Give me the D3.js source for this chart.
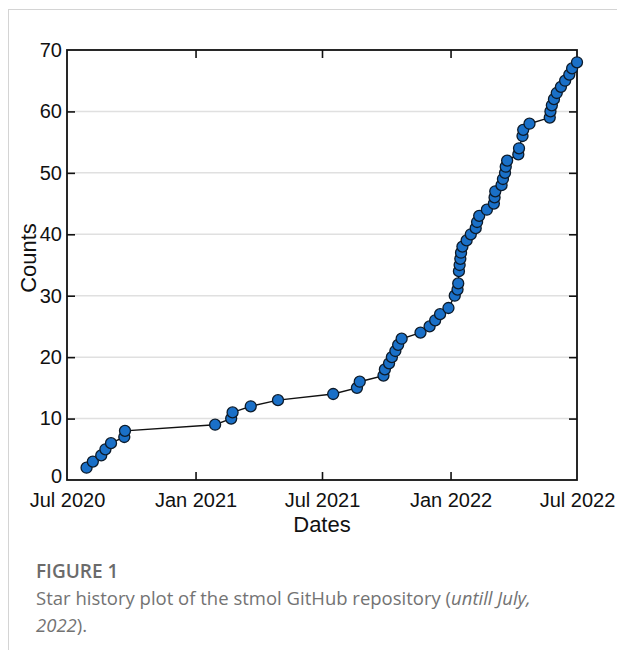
<!DOCTYPE html>
<html>
<head>
<meta charset="utf-8">
<script src="https://cdn.jsdelivr.net/npm/d3@7"></script>
<style>
  html, body { margin: 0; padding: 0; background: #fff; }
  svg { display: block; }
</style>
</head>
<body>
<svg id="chart" width="617" height="650"></svg>
<script>
// Star history of the stmol repository: date of each recorded star and cumulative count
const starDates = [
  "2020-07-29", "2020-08-07", "2020-08-19", "2020-08-25", "2020-09-02", "2020-09-21", "2020-09-22",
  "2021-01-29", "2021-02-21", "2021-02-23", "2021-03-21", "2021-04-29",
  "2021-07-17", "2021-08-20", "2021-08-24",
  "2021-09-27", "2021-09-29", "2021-10-05", "2021-10-09", "2021-10-14", "2021-10-18", "2021-10-23",
  "2021-11-19", "2021-12-02", "2021-12-10", "2021-12-17", "2021-12-29",
  "2022-01-07", "2022-01-11", "2022-01-12", "2022-01-13", "2022-01-14", "2022-01-15", "2022-01-16",
  "2022-01-18", "2022-01-24", "2022-01-30", "2022-02-06", "2022-02-08", "2022-02-11", "2022-02-22",
  "2022-03-04", "2022-03-05", "2022-03-06", "2022-03-15", "2022-03-17", "2022-03-20", "2022-03-21",
  "2022-03-23", "2022-04-08", "2022-04-09", "2022-04-14", "2022-04-15", "2022-04-24",
  "2022-05-23", "2022-05-24", "2022-05-26", "2022-05-29", "2022-06-02", "2022-06-08", "2022-06-14",
  "2022-06-20", "2022-06-24", "2022-07-01"
];
const starCounts = [
  2, 3, 4, 5, 6, 7, 8,
  9, 10, 11, 12, 13,
  14, 15, 16,
  17, 18, 19, 20, 21, 22, 23,
  24, 25, 26, 27, 28,
  30, 31, 32, 34, 35, 36, 37,
  38, 39, 40, 41, 42, 43, 44,
  45, 46, 47, 48, 49, 50, 51,
  52, 53, 54, 56, 57, 58,
  59, 60, 61, 62, 63, 64, 65,
  66, 67, 68
];
const xTickDates = ["2020-07-01", "2021-01-01", "2021-07-01", "2022-01-01", "2022-07-01"];
const xTickLabels = ["Jul 2020", "Jan 2021", "Jul 2021", "Jan 2022", "Jul 2022"];
const yTickValues = [0, 10, 20, 30, 40, 50, 60, 70];

const parse = d3.utcParse("%Y-%m-%d");
const points = starDates.map((d, i) => ({ date: parse(d), count: starCounts[i] }));

const svg = d3.select("#chart");

// page frame lines
svg.append("line").attr("x1", 8).attr("x2", 617).attr("y1", 9.5).attr("y2", 9.5)
  .attr("stroke", "#d4d4d4").attr("stroke-width", 1);
svg.append("line").attr("x1", 8.5).attr("x2", 8.5).attr("y1", 9).attr("y2", 650)
  .attr("stroke", "#d4d4d4").attr("stroke-width", 1);

const plot = { left: 67, right: 577, top: 50, bottom: 480 };

const x = d3.scaleUtc()
  .domain([parse(xTickDates[0]), parse(xTickDates[xTickDates.length - 1])])
  .range([plot.left, plot.right]);
const y = d3.scaleLinear().domain([0, 70]).range([plot.bottom, plot.top]);

const font = "'Liberation Sans', Arial, sans-serif";
const tickLen = 8;

// horizontal grid
svg.append("g")
  .selectAll("line")
  .data(yTickValues.filter(v => v > 0 && v < 70))
  .join("line")
  .attr("x1", plot.left).attr("x2", plot.right)
  .attr("y1", d => y(d)).attr("y2", d => y(d))
  .attr("stroke", "#e0e0e0").attr("stroke-width", 1.5);

// axes with inward ticks
const xTickVals = xTickDates.map(parse);
const fmtX = d => xTickLabels[xTickVals.findIndex(t => +t === +d)];

const axisBottom = d3.axisBottom(x).tickValues(xTickVals).tickFormat(fmtX)
  .tickSizeInner(-tickLen).tickSizeOuter(0).tickPadding(13);
const axisTop = d3.axisTop(x).tickValues(xTickVals).tickFormat("")
  .tickSizeInner(-tickLen).tickSizeOuter(0);
const axisLeft = d3.axisLeft(y).tickValues(yTickValues).tickFormat(d3.format("d"))
  .tickSizeInner(-tickLen).tickSizeOuter(0).tickPadding(5);
const axisRight = d3.axisRight(y).tickValues(yTickValues).tickFormat("")
  .tickSizeInner(-tickLen).tickSizeOuter(0);

function styleAxis(g) {
  g.select(".domain").remove();
  g.selectAll(".tick line").attr("stroke", "#111").attr("stroke-width", 1.6);
  g.selectAll(".tick text").attr("fill", "#111")
    .style("font-family", font).style("font-size", "20px");
}

svg.append("g").attr("transform", `translate(0,${plot.bottom})`).call(axisBottom).call(styleAxis);
svg.append("g").attr("transform", `translate(0,${plot.top})`).call(axisTop).call(styleAxis);
const gLeft = svg.append("g").attr("transform", `translate(${plot.left},0)`).call(axisLeft).call(styleAxis);
svg.append("g").attr("transform", `translate(${plot.right},0)`).call(axisRight).call(styleAxis);

// lift the zero label clear of the date labels
gLeft.selectAll(".tick text").filter(d => d === 0).attr("dy", "0.1em");

// the end ticks coincide with the frame
svg.selectAll(".tick line").filter(function(d) {
  return (+d === +xTickVals[0] || +d === +xTickVals[xTickVals.length - 1] || d === 0 || d === 70);
}).remove();

// plot box
svg.append("rect")
  .attr("x", plot.left).attr("y", plot.top)
  .attr("width", plot.right - plot.left).attr("height", plot.bottom - plot.top)
  .attr("fill", "none").attr("stroke", "#111").attr("stroke-width", 1.8);

// cumulative line and markers
const line = d3.line().x(d => x(d.date)).y(d => y(d.count));
svg.append("path").datum(points)
  .attr("d", line).attr("fill", "none")
  .attr("stroke", "#111").attr("stroke-width", 1.4);

svg.append("g").selectAll("circle")
  .data(points)
  .join("circle")
  .attr("cx", d => x(d.date)).attr("cy", d => y(d.count))
  .attr("r", 5.5)
  .attr("fill", "#1a70c8")
  .attr("stroke", "#0d1b2a").attr("stroke-width", 1.3);

// axis titles
svg.append("text")
  .attr("x", (plot.left + plot.right) / 2).attr("y", 532)
  .attr("text-anchor", "middle")
  .style("font-family", font).style("font-size", "22px").attr("fill", "#111")
  .text("Dates");
svg.append("text")
  .attr("transform", `translate(36,258) rotate(-90)`)
  .attr("text-anchor", "middle")
  .style("font-family", font).style("font-size", "22px").attr("fill", "#111")
  .text("Counts");

// caption
const capFont = "'Open Sans', 'Noto Sans', sans-serif";
svg.append("text").attr("x", 36).attr("y", 578)
  .style("font-family", capFont).style("font-size", "19px").style("font-weight", 600)
  .attr("fill", "#6b6b6b").text("FIGURE 1");
const cap1 = svg.append("text").attr("x", 36).attr("y", 605)
  .style("font-family", capFont).style("font-size", "18.5px").style("font-weight", 400)
  .attr("fill", "#737373");
cap1.append("tspan").text("Star history plot of the stmol GitHub repository (");
cap1.append("tspan").style("font-style", "italic").text("untill July,");
const cap2 = svg.append("text").attr("x", 36).attr("y", 632)
  .style("font-family", capFont).style("font-size", "18.5px").style("font-weight", 400)
  .attr("fill", "#737373");
cap2.append("tspan").style("font-style", "italic").text("2022");
cap2.append("tspan").text(").");
</script>
</body>
</html>
